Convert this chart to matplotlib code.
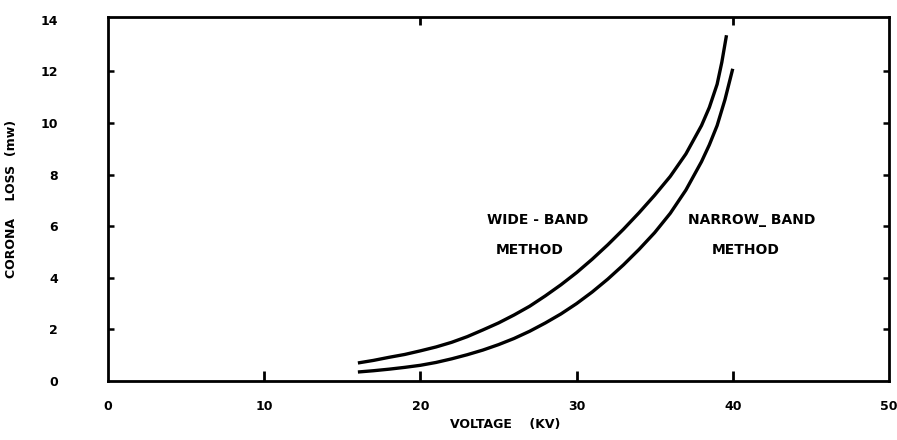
import matplotlib
matplotlib.use("Agg")
import matplotlib.pyplot as plt

# values
wide_v = [16, 17, 18, 19, 20, 21, 22, 23, 24, 25, 26, 27, 28, 29, 30,
          31, 32, 33, 34, 35, 36, 37, 38, 38.5, 39, 39.3, 39.6]
wide_loss = [0.7, 0.8, 0.92, 1.03, 1.17, 1.32, 1.5, 1.72, 1.98, 2.25, 2.56, 2.9, 3.3, 3.73, 4.2,
             4.72, 5.28, 5.88, 6.52, 7.2, 7.93, 8.8, 9.9, 10.6, 11.5, 12.35, 13.4]

narrow_v = [16, 17, 18, 19, 20, 21, 22, 23, 24, 25, 26, 27, 28, 29, 30,
            31, 32, 33, 34, 35, 36, 37, 38, 38.5, 39, 39.5, 40]
narrow_loss = [0.35, 0.4, 0.46, 0.53, 0.61, 0.72, 0.86, 1.02, 1.2, 1.41, 1.65, 1.93, 2.25, 2.6, 3.0,
               3.45, 3.95, 4.5, 5.1, 5.75, 6.5, 7.4, 8.5, 9.15, 9.9, 10.9, 12.1]

xticks = [0, 10, 20, 30, 40, 50]
yticks = [0, 2, 4, 6, 8, 10, 12, 14]

plt.rcParams['font.family'] = ['DejaVu Sans']
plt.rcParams['font.weight'] = 'bold'

fig = plt.figure(figsize=(8.97, 4.4), dpi=100)
ax = fig.add_axes([0.1204, 0.134, 0.8706, 0.827])

ax.plot(wide_v, wide_loss, color='black', lw=2.4, solid_capstyle='butt', solid_joinstyle='round')
ax.plot(narrow_v, narrow_loss, color='black', lw=2.4, solid_capstyle='butt', solid_joinstyle='round')

ax.set_xlim(0, 50)
ax.set_ylim(0, 14.1)
ax.set_xticks(xticks)
ax.set_yticks(yticks)
ax.set_xticklabels([str(t) for t in xticks], fontsize=9, fontweight='bold')
ax.set_yticklabels([str(t) for t in yticks], fontsize=9, fontweight='bold')

for s in ax.spines.values():
    s.set_linewidth(2)

ax.tick_params(axis='x', direction='in', length=7, width=2, pad=14)
ax.tick_params(axis='y', direction='in', length=4, width=1.8, pad=36, right=True)
# no tick marks at the corners
for t in ax.xaxis.get_major_ticks()[::5]:
    t.tick1line.set_visible(False)
for t in ax.yaxis.get_major_ticks():
    if t.get_loc() in (0, 14):
        t.tick1line.set_visible(False)
        t.tick2line.set_visible(False)

top = ax.secondary_xaxis('top')
top.set_xticks([20, 40])
top.set_xticklabels([])
top.tick_params(direction='in', length=6, width=2)
top.spines['top'].set_visible(False)

fig.text(0.563, 0.035, 'VOLTAGE    (KV)', ha='center', va='center', fontsize=9, fontweight='bold')
ax.set_ylabel('CORONA    LOSS  (mw)', fontsize=9, fontweight='bold', labelpad=16)

ax.text(27.5, 6.24, 'WIDE - BAND', ha='center', va='center', fontsize=10, fontweight='bold')
ax.text(27.0, 5.08, 'METHOD', ha='center', va='center', fontsize=10, fontweight='bold')
ax.text(41.2, 6.24, 'NARROW_ BAND', ha='center', va='center', fontsize=10, fontweight='bold')
ax.text(40.8, 5.08, 'METHOD', ha='center', va='center', fontsize=10, fontweight='bold')

fig.savefig('out.png', dpi=100)
